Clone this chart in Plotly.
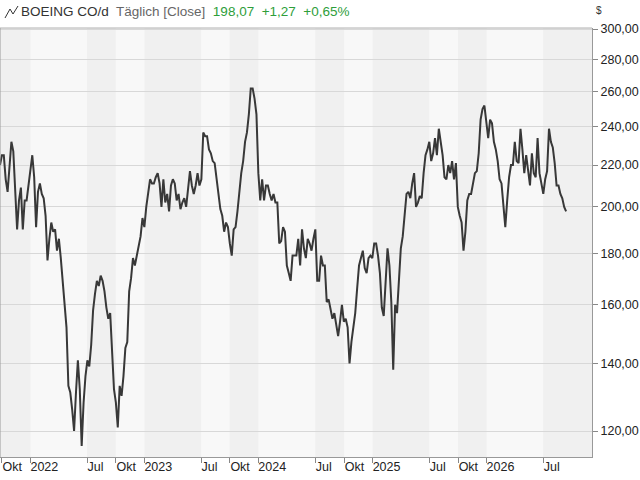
import plotly.graph_objects as go
import pandas as pd
import numpy as np

# Close prices (USD), evenly spaced from late Sep 2021 to mid Sep 2026
seg1 = [220,225,225,213,207,220,232,227,207,190,203,209,190,203,203,211,216,225,214,191,
        207,211,206,204,196,177,186,193,189,190,181,186,178,169,158,152,133,131,126,120,
        131,141,132,116,128,136,141,139,146,158,164,169,167,171,169,165,159,155,157,146,
        132,128,121,133,130,136,145,147,165,170,178,175,179,184,187,195,191,200,207,213]
seg2 = [211,211,214,216,211,200,213,202,206,198,210,213,211,203,206,199,202,204,200,210,
        217,210,206,210,216,210,213,237,235,235,228,226,222,221,213,206,199,196,189,193,
        191,184,179,190,191,198,209,216,222,232,237,247,262,262,256,247,216,203,213,203,
        210,210,206,203,206,202,202,184]
seg3 = [185,191,189,175,172,169,179,179,179,186,175,190,182,178,186,184,181,186,190,169,
        169,179,175,175,161,162,159,155,157,152,149,154,160,154,155,152,140,147,152,157,
        166,175,178,181,174,172,178,179,178,184,184,179,172,159,156,171,182,175,161,138,
        160,157,169,182,187,195,206,207,204,211,216,200,202]
seg4 = [205,204,216,225,228,232,222,226,234,225,239,232,225,214,213,220,216,222,213,221,
        200,196,193,181,189,203,206,206,211,216,217,226,244,250,252,244,234,244,242,232,
        228,222,213,211,200,191,203,214,220,220,232,222,221,239,228,216,225,217,210,226,
        216,214,234,216,211,206,213,217,239,232,229,221,210,210,206,204,200,198]
prices = seg1 + seg2 + seg3 + seg4
start_date, end_date = "2021-09-25", "2026-09-12"
dates = pd.date_range(start_date, end_date, periods=len(prices))

y_ticks = [120, 140, 160, 180, 200, 220, 240, 260, 280, 300]
y_labels = ["120,00","140,00","160,00","180,00","200,00","220,00","240,00","260,00","280,00","300,00"]
x_tick_dates = ["2021-10-01","2022-01-01","2022-07-01","2022-10-01","2023-01-01","2023-07-01","2023-10-01",
                "2024-01-01","2024-07-01","2024-10-01","2025-01-01","2025-07-01","2025-10-01","2026-01-01","2026-07-01"]
x_tick_labels = ["Okt","2022","Jul","Okt","2023","Jul","Okt","2024","Jul","Okt","2025","Jul","Okt","2026","Jul"]
x_range = ["2021-09-25", "2026-12-04"]

FONT = "Liberation Sans"

fig = go.Figure()
fig.add_trace(go.Scatter(x=dates, y=prices, mode="lines",
                         line=dict(color="#383838", width=2), hoverinfo="skip"))
fig.add_trace(go.Scatter(x=[dates[0]], y=[prices[0]], xaxis="x2", mode="none", showlegend=False))

bounds = [x_range[0]] + x_tick_dates[1:] + [x_range[1]]
shapes = []
for i in range(len(bounds) - 1):
    col = "#f0f0f0" if i % 2 == 0 else "#f8f8f8"
    shapes.append(dict(type="rect", xref="x", yref="paper", x0=bounds[i], x1=bounds[i+1],
                       y0=0, y1=1, fillcolor=col, line_width=0, layer="below"))
def px(x, y):
    return x / 592, (457 - y) / 429
pts = [px(5, 18), px(10, 9), px(13, 14), px(18, 6)]
path = "M " + " L ".join(f"{a},{b}" for a, b in pts)
shapes.append(dict(type="path", xref="paper", yref="paper", path=path,
                   line=dict(color="#333", width=1)))
shapes.append(dict(type="line", xref="paper", yref="paper", x0=0, x1=1, y0=1, y1=1,
                   line=dict(color="#b0b0b0", width=1)))
shapes.append(dict(type="line", xref="paper", yref="paper", x0=0, x1=0, y0=0, y1=1,
                   line=dict(color="#999", width=1)))

shift_days = {"Okt": 33, "Jul": 27}
label_pos = [pd.Timestamp(d) + pd.Timedelta(days=shift_days.get(l, 44)) for d, l in zip(x_tick_dates, x_tick_labels)]

fig.update_layout(
    width=640, height=480, margin=dict(l=0, r=48, t=28, b=23, autoexpand=False),
    paper_bgcolor="white", plot_bgcolor="#f4f4f4", showlegend=False,
    font=dict(family=FONT, size=12, color="#222"),
    shapes=shapes,
    xaxis=dict(range=x_range, tickvals=x_tick_dates, ticktext=[""] * len(x_tick_dates),
               ticks="outside", ticklen=5, tickcolor="#888", showgrid=False, automargin=False,
               showline=True, linecolor="#999", zeroline=False),
    xaxis2=dict(range=x_range, overlaying="x", side="bottom", anchor="y", automargin=False,
                tickvals=label_pos, ticktext=x_tick_labels, ticks="", showgrid=False,
                showline=False, zeroline=False, tickfont=dict(family=FONT, size=12.5, color="#222")),
    yaxis=dict(type="log", range=[np.log10(113.1), np.log10(300.7)], side="right", automargin=False,
               tickvals=y_ticks, ticktext=y_labels, ticks="outside", ticklen=5, tickcolor="#888",
               showgrid=True, gridcolor="#d8d8d8", gridwidth=1, showline=True, linecolor="#999",
               zeroline=False, tickfont=dict(family=FONT, size=12.5, color="#222")),
    annotations=[
        dict(xref="paper", yref="paper", x=19/592, y=(457-12)/429, xanchor="left", yanchor="middle",
             showarrow=False, font=dict(family=FONT, size=13.5),
             text="<span style='color:#333'>BOEING CO/d</span>  <span style='color:#666'>Täglich [Close]</span>  "
                  "<span style='color:#2e9e3a'>198,07  +1,27  +0,65%</span>"),
        dict(xref="paper", yref="paper", x=594/592, y=(457-10)/429, xanchor="left", yanchor="middle",
             showarrow=False, text="$", font=dict(family=FONT, size=10, color="#333")),
    ],
)
fig.write_html("out.html", config={"displayModeBar": False},
               post_script="document.body.style.margin='0';document.body.style.overflow='hidden';")
